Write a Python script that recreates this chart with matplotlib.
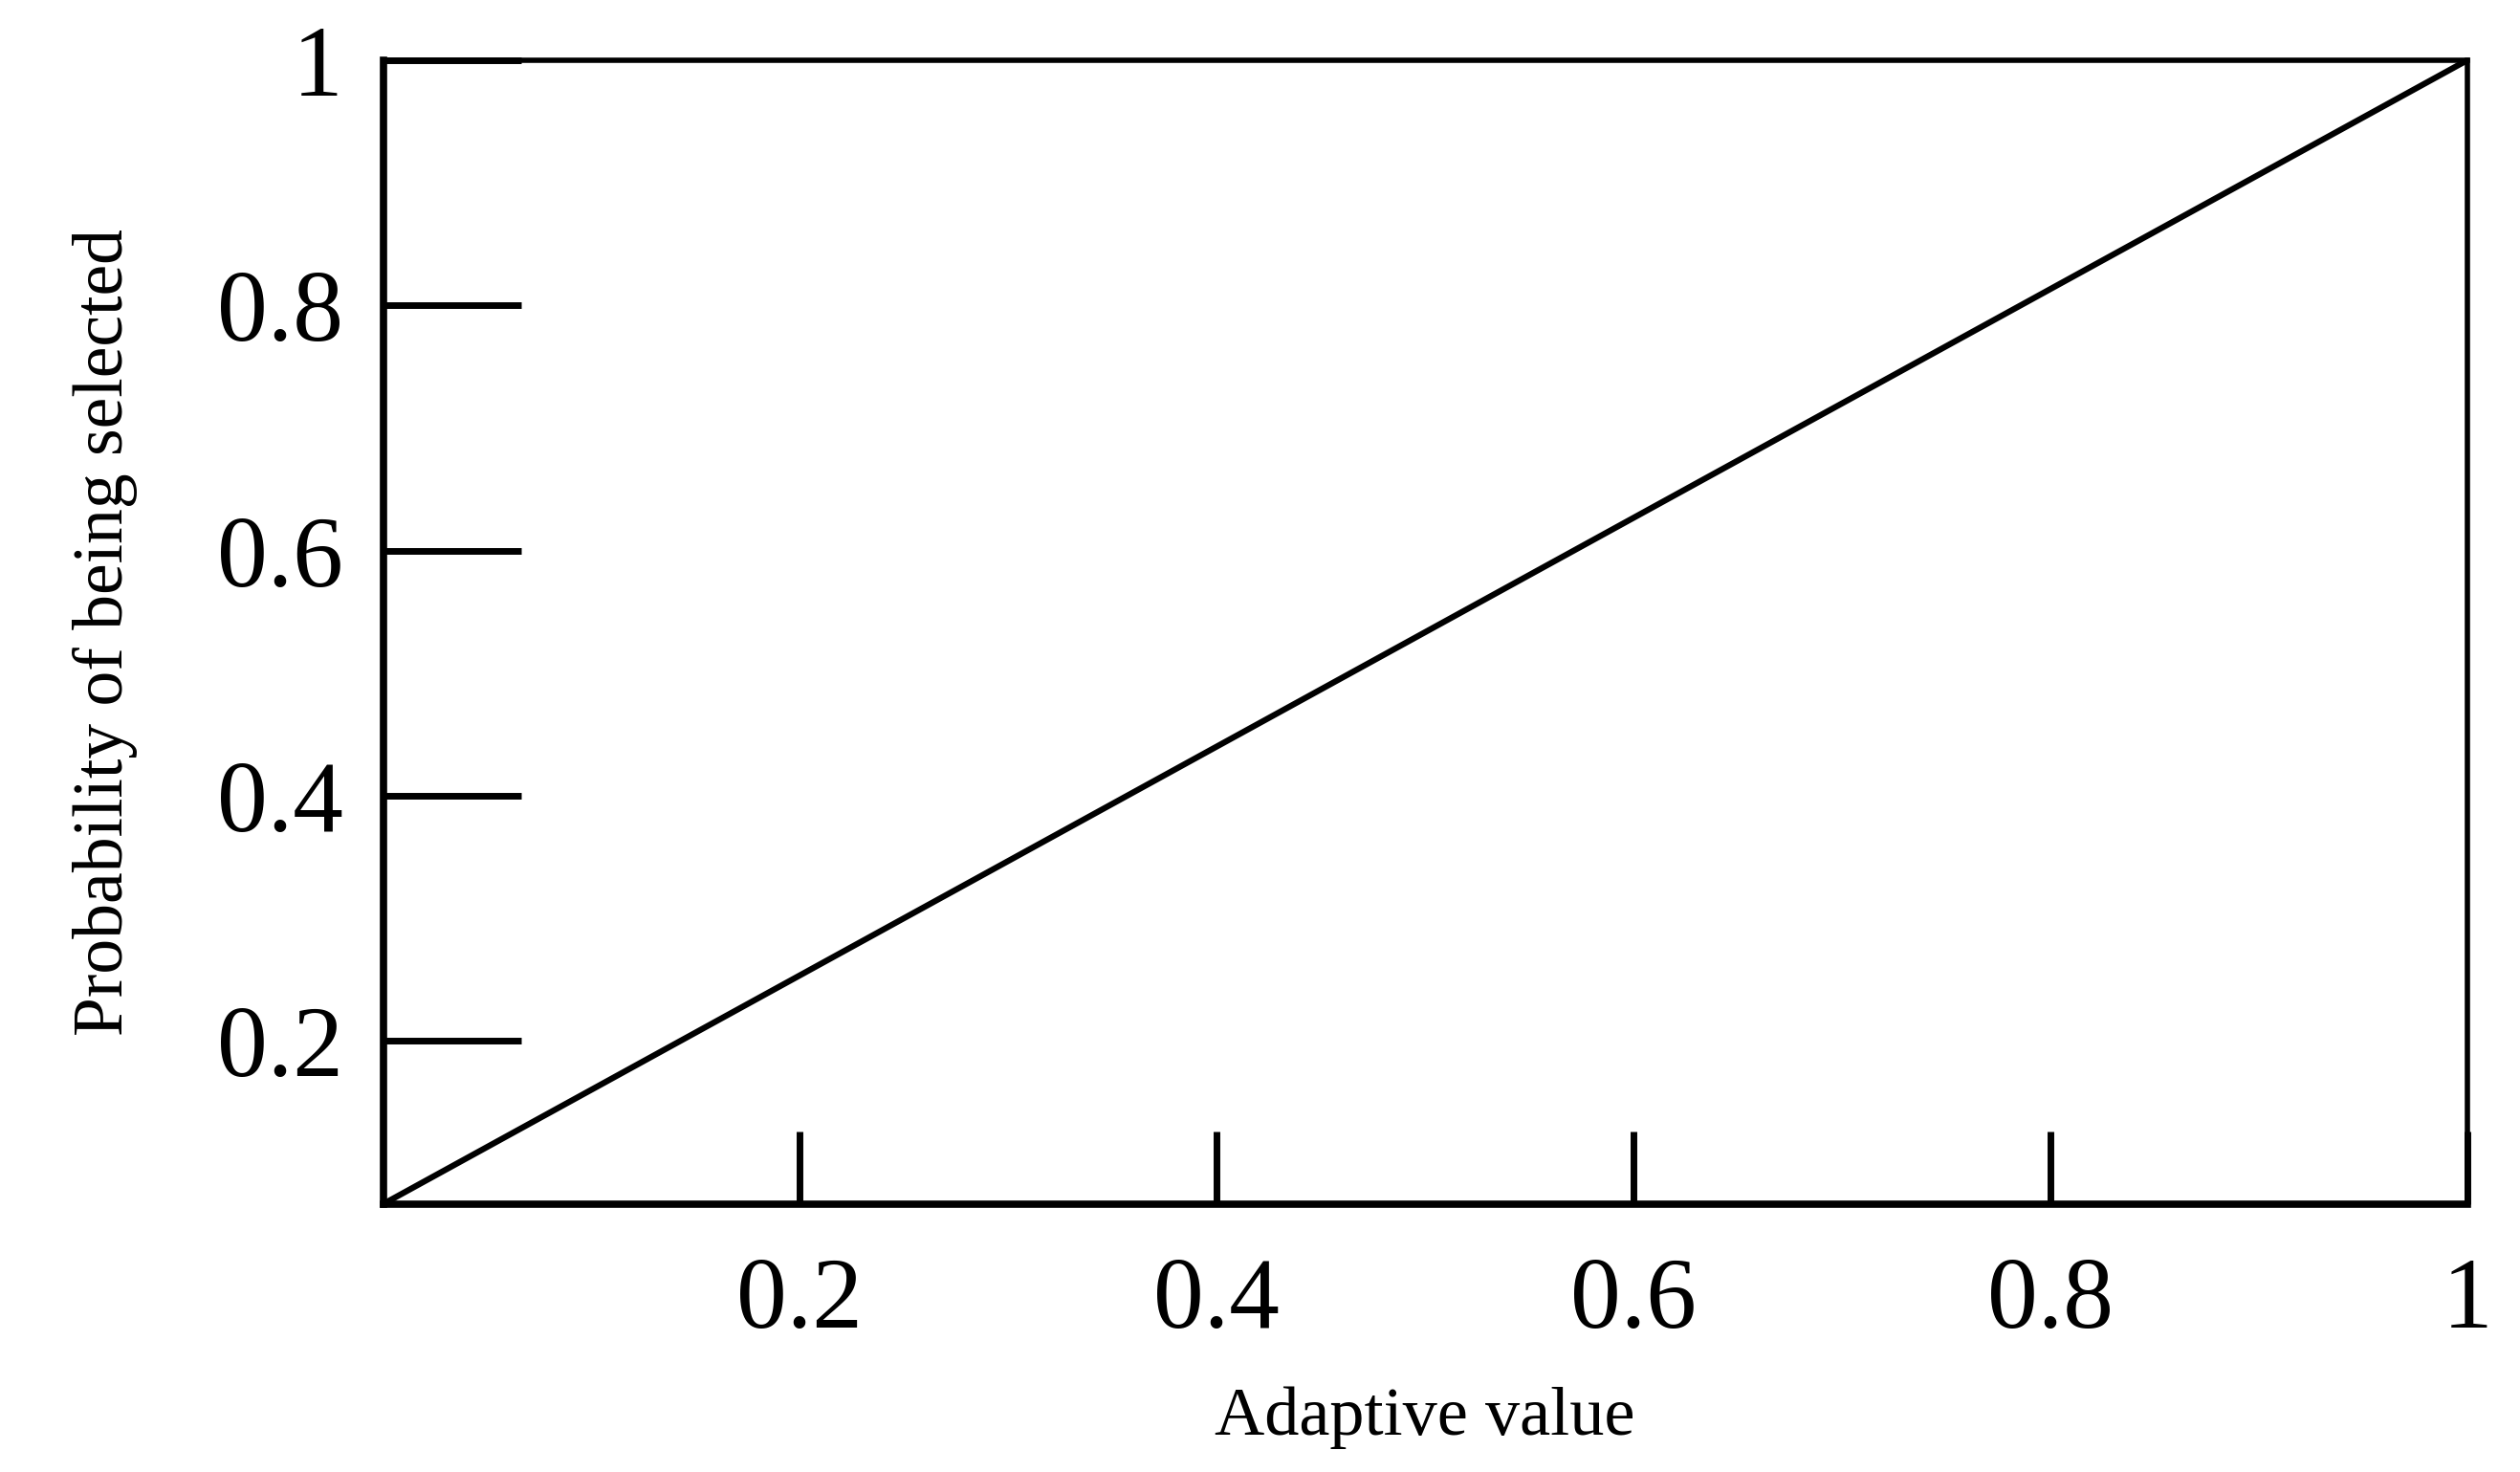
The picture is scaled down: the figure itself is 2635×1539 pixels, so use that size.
import matplotlib
matplotlib.use("Agg")
import matplotlib.pyplot as plt

x_vals = [0.0, 1.0]
y_vals = [0.067, 1.0]
xticks = [0.2, 0.4, 0.6, 0.8, 1.0]
xtick_labels = ["0.2", "0.4", "0.6", "0.8", "1"]
yticks = [0.2, 0.4, 0.6, 0.8, 1.0]
ytick_labels = ["0.2", "0.4", "0.6", "0.8", "1"]

plt.rcParams['font.family'] = ['Liberation Serif', 'DejaVu Serif']
fig = plt.figure(figsize=(26.35, 15.39), dpi=100)
ax = fig.add_axes([0.152, 0.182, 0.833 - 0.006, 0.777])
ax.plot(x_vals, y_vals, color='black', lw=4.5)
ax.set_xlim(0, 1)
ax.set_ylim(0.067, 1)
ax.set_xticks(xticks)
ax.set_xticklabels(xtick_labels)
ax.set_yticks(yticks)
ax.set_yticklabels(ytick_labels)
ax.tick_params(axis='y', direction='in', length=104, width=5, labelsize=76, pad=30)
ax.tick_params(axis='x', direction='in', length=55, width=5, labelsize=76, pad=40)
for s in ['left', 'bottom']:
    ax.spines[s].set_linewidth(5.5)
for s in ['top', 'right']:
    ax.spines[s].set_linewidth(4)
ax.set_xlabel("Adaptive value", fontsize=52, labelpad=28)
ax.set_ylabel("Probability of being selected", fontsize=53, labelpad=60)
fig.savefig("out.png", dpi=100)
